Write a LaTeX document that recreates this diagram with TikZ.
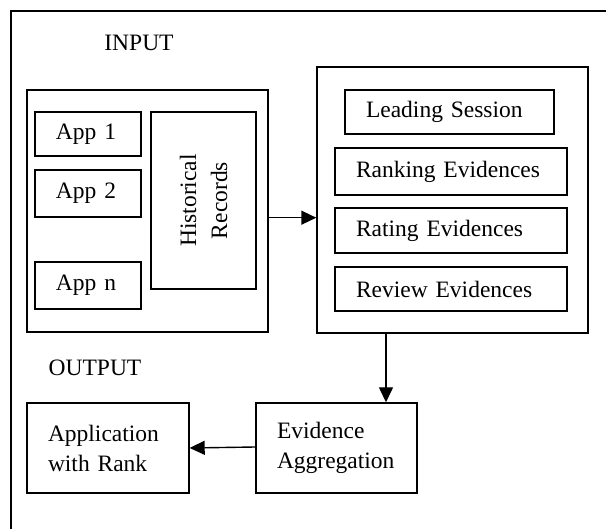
\documentclass[tikz,border=0pt]{standalone}
\usepackage{fontspec}
\setmainfont{Liberation Serif}
\usetikzlibrary{arrows.meta,calc}

\tikzset{
  frame/.style={line width=1.4pt},
  box/.style={draw, line width=1.4pt, inner xsep=21pt, inner ysep=0pt, align=left,
              font=\fontsize{23.5}{30}\selectfont},
  plain/.style={draw, line width=1.4pt, inner sep=0pt},
  heading/.style={font=\fontsize{23.5}{28}\selectfont, inner sep=0pt},
  arr/.style={line width=1.4pt, -{Triangle[length=15pt,width=14pt]}}
}

\begin{document}
\begin{tikzpicture}[x=1pt,y=-1pt]
  \useasboundingbox (0,0) rectangle (606,529);

  % outer frame (top and left edges)
  \coordinate (fbl) at (11,529);
  \coordinate (ftl) at (11,11);
  \coordinate (ftr) at (606,11);
  \draw[frame] (fbl) -- (ftl) -- (ftr);

  \node[heading] (input) at (139,43) {INPUT};
  \node[heading] (output) at (95,368) {OUTPUT};

  % input block
  \node[plain, minimum width=241pt, minimum height=242pt] (leftbox) at (147.5,211) {};
  \node[box, text width=64pt, minimum height=44pt] (app1) at (88,134) {App 1};
  \node[box, text width=64pt, minimum height=47pt] (app2) at (88,193.5) {App 2};
  \node[box, text width=64pt, minimum height=47pt] (appn) at (88,285.5) {App n};
  \node[plain, minimum width=105pt, minimum height=177pt] (hist) at (203.5,200.5) {};
  \node[rotate=90, align=center, inner sep=0pt,
        font=\fontsize{23.5}{31}\selectfont] (histtext) at (hist.center) {Historical\\Records};

  % evidence block
  \node[plain, minimum width=271pt, minimum height=266pt] (rightbox) at (452.5,200) {};
  \node[box, text width=167pt, minimum height=44pt] (lead) at (449.5,112) {Leading Session};
  \node[box, text width=190pt, minimum height=47pt] (rank) at (451,171.5) {Ranking Evidences};
  \node[box, text width=190pt, minimum height=45pt] (rate) at (451,230.5) {Rating Evidences};
  \node[box, text width=190pt, minimum height=44pt] (review) at (451,289) {Review Evidences};

  % output block
  \node[box, text width=120pt, minimum height=90pt] (result) at (108,448) {Application\\with Rank};
  \node[box, text width=119pt, minimum height=90pt] (evid) at (336.5,448) {Evidence\\Aggregation};

  % connectors
  \draw[arr] (app2.south -| leftbox.east) -- (app2.south -| rightbox.west);
  \draw[arr] ([xshift=49.5pt]evid.north |- rightbox.south) -- ([xshift=49.5pt]evid.north);
  \draw[arr] ([yshift=1pt]evid.west) -- (result.east);
\end{tikzpicture}
\end{document}
